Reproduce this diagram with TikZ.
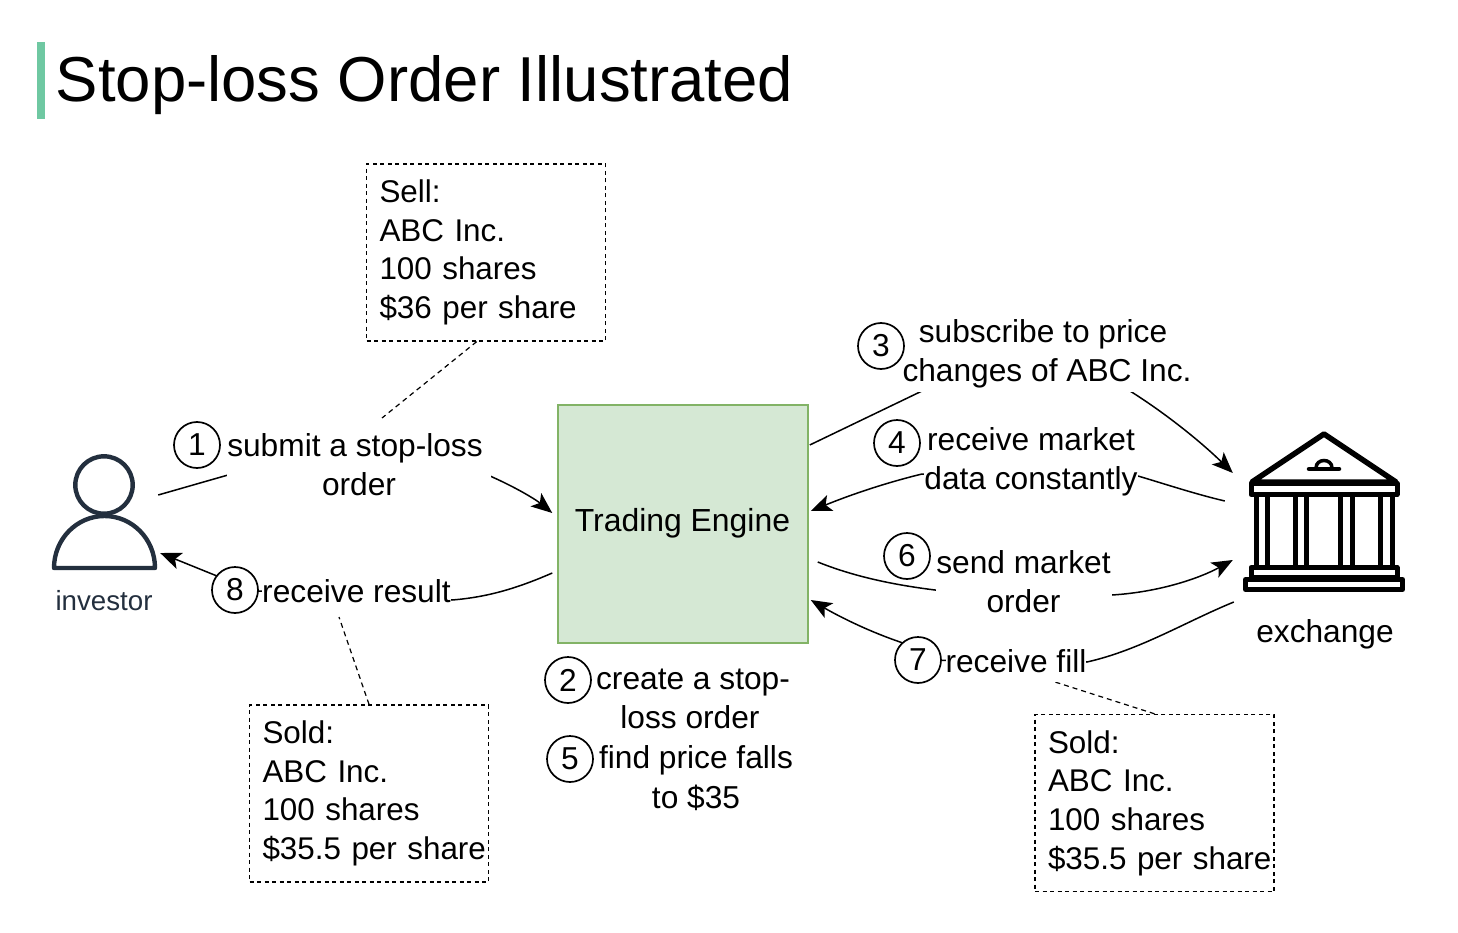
\documentclass[tikz,border=0pt]{standalone}
\usepackage{fontspec}
\setmainfont{Liberation Sans}
\usetikzlibrary{arrows.meta,calc}
\definecolor{barc}{HTML}{6FC8A2}
\definecolor{enginefill}{HTML}{D5E8D4}
\definecolor{enginedraw}{HTML}{82B366}
\definecolor{navy}{HTML}{232F3E}
\newcommand{\bodyfont}{\fontsize{31.7}{39.3}\selectfont}
\newcommand{\notefont}{\fontsize{31.4}{38.7}\selectfont}
\tikzset{
  txt/.style={font=\bodyfont,inner sep=0pt,align=center,text=black},
  lbl/.style={txt,fill=white,minimum height=#1},
  lbl/.default=80pt,
  numc/.style={circle,draw=black,line width=1.7pt,fill=white,minimum size=46pt,inner sep=0pt,font=\bodyfont},
  notebox/.style={draw=black,line width=1.4pt,dash pattern=on 4pt off 3.5pt,fill=white,minimum width=239pt,minimum height=177pt,text width=213pt,align=left,font=\notefont,inner sep=0pt},
  conn/.style={draw=black,line width=1.5pt,-{Stealth[length=21pt,width=17pt,inset=5pt]}},
  leader/.style={draw=black,line width=1.2pt,dash pattern=on 5pt off 4pt},
  icon/.style={inner sep=0pt,minimum width=#1},
  navyline/.style={draw=navy,line width=4.4pt,line join=round},
  bankline/.style={draw=black,line width=5pt,line join=round}
}
\begin{document}
\begin{tikzpicture}[x=1pt,y=-1pt]
\useasboundingbox (0,0) rectangle (1458,933);
% title
\fill[barc] (37,42) rectangle (45,119);
\node[anchor=base west,inner sep=0pt,font=\fontsize{63.5}{70}\selectfont] (title) at (55.5,102) {Stop-loss Order Illustrated};
% anchors of the icons
\node[icon=104pt,minimum height=115pt] (investor) at (104.5,513) {};
\node[icon=160pt,minimum height=160pt] (exch) at (1324,510) {};
% engine
\node[draw=enginedraw,fill=enginefill,line width=1.5pt,minimum width=250pt,minimum height=238pt,inner sep=0pt] (engine) at (683,524) {};
\node[font=\fontsize{31.9}{39}\selectfont,inner sep=0pt] (enginename) at (682.5,523) {Trading Engine};
% investor icon
\draw[navyline] (104,485) circle[radius=28.7pt];
\draw[navyline] (54,568) .. controls (54,539.3) and (76.6,516) .. (104.5,516) .. controls (132.4,516) and (155,539.3) .. (155,568) -- cycle;
% exchange icon
\draw[bankline,line width=5.5pt] (1252,482) -- (1324,434) -- (1396,482) -- cycle;
\draw[bankline] (1251,483) rectangle (1397,494.5);
\draw[bankline] (1251,567.5) rectangle (1397,577);
\draw[bankline] (1245.5,579.5) rectangle (1402.5,589.5);
\foreach \cx in {1256,1267,1295.3,1306.7,1340.7,1352.3,1380.7,1392}{\draw[draw=black,line width=5pt] (\cx,494) -- (\cx,567);}
\draw[draw=black,line width=4.5pt,line cap=round] (1309,469) -- (1339,469);
\draw[draw=black,line width=3.5pt] (1316,468) .. controls (1316,458) and (1332,458) .. (1332,468);
% connectors
\draw[conn] ([shift={(1.5,-18)}]investor.east) -- (228,475) -- (490,476) .. controls (515,487) and (535,499) .. ([shift={(-5,-11)}]engine.west);
\draw[conn] ([shift={(1,-79)}]engine.east) -- (922,391) -- (1130,391) .. controls (1165,413) and (1200,441) .. ([shift={(-11,-37)}]exch.west);
\draw[conn] ([shift={(-19,-9)}]exch.west) .. controls (1195,494) and (1165,484) .. (1138,476) -- (922,474) .. controls (885,483) and (850,495) .. ([shift={(2,-13)}]engine.east);
\draw[conn] ([shift={(9,38)}]engine.east) .. controls (855,577) and (895,585) .. (935,590) -- (1112,595) .. controls (1160,592) and (1200,578) .. ([shift={(-11,50)}]exch.west);
\draw[conn] ([shift={(-10,92)}]exch.west) .. controls (1185,622) and (1140,650) .. (1087,662) -- (918,660) -- (903,643) .. controls (870,632) and (840,617) .. ([shift={(2,76)}]engine.east);
\draw[conn] ([shift={(-5,49)}]engine.west) .. controls (520,587) and (490,597) .. (452,600) -- (235,590) -- (217,576) -- ([shift={(3.5,40)}]investor.east);
% notes and leaders
\node[notebox] (note1) at (486,252.5) {Sell:\\ABC Inc.\\100 shares\\\$36 per share};
\node[notebox] (note2) at (369,793.5) {Sold:\\ABC Inc.\\100 shares\\\rlap{\$35.5 per share}};
\node[notebox] (note3) at (1154.5,803) {Sold:\\ABC Inc.\\100 shares\\\rlap{\$35.5 per share}};
\coordinate (lead1) at (382,418);
\coordinate (lead2) at (339,617);
\coordinate (lead3) at (1055,682);
\draw[leader] (note1.264) -- (lead1);
\draw[leader] (note2.north) -- (lead2);
\draw[leader] (note3.north) -- (lead3);
% labels
\node[lbl=78pt] (lab1) at (359,465) {submit a stop-loss\hspace*{8pt}\\order};
\node[txt] (lab2) at (693,699) {create a stop-\\\hspace*{-6pt}loss order};
\node[txt] (lab5) at (696,778) {find price falls\\to \$35};
\node[lbl=76pt] (lab3) at (1047,354) {subscribe to price\hspace*{8pt}\\changes of ABC Inc.};
\node[lbl=76pt] (lab4) at (1031,462) {receive market\\data constantly};
\node[lbl=78pt,minimum width=176pt] (lab6) at (1023.5,582) {send market\\order};
\node[lbl=42pt] (lab7) at (1016,661) {receive fill};
\node[lbl=42pt] (lab8) at (356.5,591) {receive result};
\node[txt] (exname) at (1325,634) {exchange};
\node[inner sep=0pt,font=\fontsize{27.7}{32}\selectfont,text=navy] (invname) at (104,601) {investor};
% numbers
\node[numc] (n1) at (197,445) {1};
\node[numc] (n2) at (568,680) {2};
\node[numc] (n3) at (881,346) {3};
\node[numc] (n4) at (897,443) {4};
\node[numc] (n5) at (570,759) {5};
\node[numc] (n6) at (907,556) {6};
\node[numc] (n7) at (918,660) {7};
\node[numc] (n8) at (235,590) {8};
\end{tikzpicture}
\end{document}
